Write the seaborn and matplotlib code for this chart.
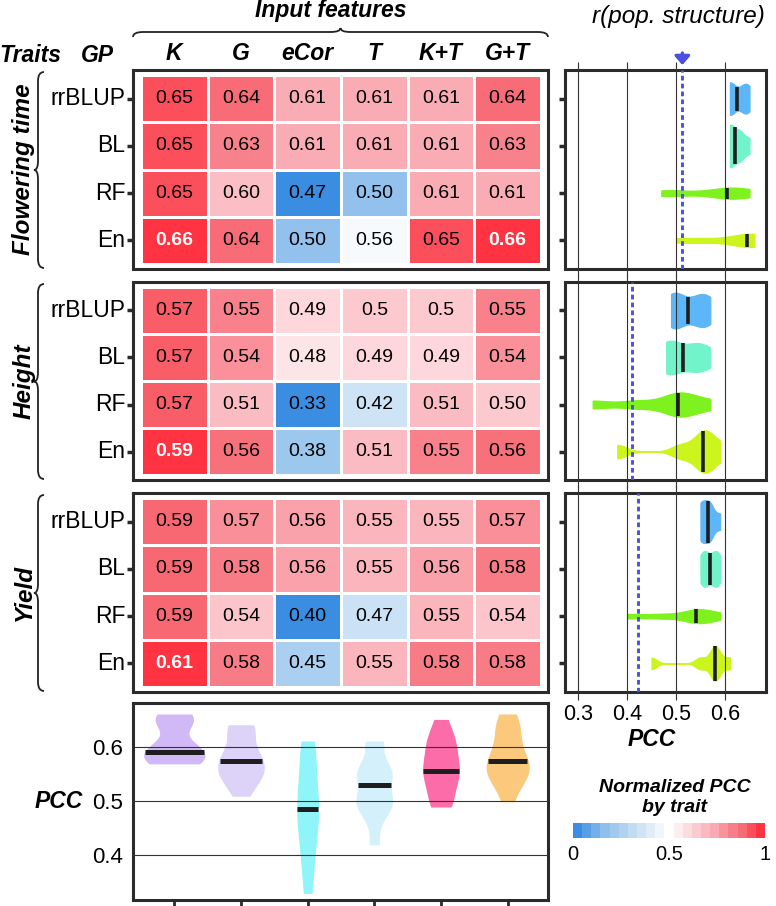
import numpy as np
import pandas as pd
import matplotlib
matplotlib.use("Agg")
import matplotlib.pyplot as plt
import seaborn as sns
from matplotlib.colors import LinearSegmentedColormap, Normalize
from matplotlib.path import Path
from matplotlib.patches import PathPatch
import matplotlib.cm as cm

# ---------------- data ----------------
traits = ["Flowering time", "Height", "Yield"]
gp_methods = ["rrBLUP", "BL", "RF", "En"]
features = ["K", "G", "eCor", "T", "K+T", "G+T"]

flowering_pcc = [
    ["0.65", "0.64", "0.61", "0.61", "0.61", "0.64"],
    ["0.65", "0.63", "0.61", "0.61", "0.61", "0.63"],
    ["0.65", "0.60", "0.47", "0.50", "0.61", "0.61"],
    ["0.66", "0.64", "0.50", "0.56", "0.65", "0.66"],
]
height_pcc = [
    ["0.57", "0.55", "0.49", "0.5", "0.5", "0.55"],
    ["0.57", "0.54", "0.48", "0.49", "0.49", "0.54"],
    ["0.57", "0.51", "0.33", "0.42", "0.51", "0.50"],
    ["0.59", "0.56", "0.38", "0.51", "0.55", "0.56"],
]
yield_pcc = [
    ["0.59", "0.57", "0.56", "0.55", "0.55", "0.57"],
    ["0.59", "0.58", "0.56", "0.55", "0.56", "0.58"],
    ["0.59", "0.54", "0.40", "0.47", "0.55", "0.54"],
    ["0.61", "0.58", "0.45", "0.55", "0.58", "0.58"],
]
pop_structure_r = [0.513, 0.410, 0.423]

gp_colors = ["#5cb6f7", "#72f4cb", "#7ef21e", "#ccf51d"]
feature_colors = ["#d1b8f6", "#ddd2f7", "#90f5f8", "#d4f1fb", "#fc6ca9", "#fbc87c"]
heat_stops = [0.0, 0.15, 0.35, 0.5, 0.75, 0.9, 1.0]
heat_colors = ["#3b8de2", "#8fc0ec", "#d0e4f6", "#ffffff", "#faa8b1", "#f76b76", "#ff3341"]

# ---------------- style ----------------
plt.rcParams["font.family"] = ["Liberation Sans", "DejaVu Sans"]
W, H = 776, 906
fig = plt.figure(figsize=(W / 100, H / 100), dpi=100)
SPINE = "#2b2b2b"


def px_axes(x0, y0, x1, y1):
    return fig.add_axes([x0 / W, 1 - y1 / H, (x1 - x0) / W, (y1 - y0) / H])


def ftext(x, y, s, **kw):
    kw.setdefault("ha", "center")
    kw.setdefault("va", "center")
    return fig.text(x / W, 1 - y / H, s, **kw)


def boxify(ax):
    for sp in ax.spines.values():
        sp.set_visible(True)
        sp.set_linewidth(2.2)
        sp.set_color(SPINE)


def nrd0_factor(kde):
    x = np.asarray(kde.dataset, dtype=float).ravel()
    sd = np.std(x, ddof=1)
    q25, q75 = np.percentile(x, [25, 75])
    lo = min(sd, (q75 - q25) / 1.34)
    if not lo > 0:
        lo = sd
    return 0.9 * lo * len(x) ** (-0.2) / sd


def violin_halfwidth(coll, pos, value, horizontal):
    v = coll.get_paths()[0].vertices
    if horizontal:
        along, across = v[:, 0], v[:, 1] - pos
    else:
        along, across = v[:, 1], v[:, 0] - pos
    hws = []
    for mask in (across > 1e-9, across < -1e-9):
        a, c = along[mask], np.abs(across[mask])
        if len(a) == 0:
            continue
        o = np.argsort(a)
        hws.append(np.interp(value, a[o], c[o]))
    return max(hws)


def outline_like_fill(ax, n):
    for coll in ax.collections[:n]:
        coll.set_edgecolor(coll.get_facecolor())
        coll.set_linewidth(0.9)


def brace(p0, p1, h1, h2, r, normal):
    p0 = np.array(p0, float)
    p1 = np.array(p1, float)
    L = np.linalg.norm(p1 - p0)
    t = (p1 - p0) / L
    n = np.array(normal, float)
    local = [(0, 0), (0, h1), (r, h1), (L / 2 - r, h1), (L / 2, h1), (L / 2, h1 + h2),
             (L / 2, h1), (L / 2 + r, h1), (L - r, h1), (L, h1), (L, 0)]
    codes = [Path.MOVETO, Path.CURVE3, Path.CURVE3, Path.LINETO, Path.CURVE3, Path.CURVE3,
             Path.CURVE3, Path.CURVE3, Path.LINETO, Path.CURVE3, Path.CURVE3]
    pts = []
    for a, s in local:
        q = p0 + a * t + s * n
        pts.append((q[0] / W, 1 - q[1] / H))
    patch = PathPatch(Path(pts, codes), fill=False, lw=1.3, color="#222222",
                      transform=fig.transFigure)
    fig.add_artist(patch)


stops = list(zip(heat_stops, heat_colors))
cmap = LinearSegmentedColormap.from_list("pcc", stops, N=256)
cmap_bar = LinearSegmentedColormap.from_list("pcc_bar", stops, N=21)

panel_y = [(70, 269), (282, 480), (493, 692)]
tables = [flowering_pcc, height_pcc, yield_pcc]
all_vals = []

for k, (table, (y0, y1)) in enumerate(zip(tables, panel_y)):
    vals = np.array([[float(s) for s in row] for row in table])
    all_vals.append(vals)
    normed = (vals - vals.min()) / (vals.max() - vals.min())
    df = pd.DataFrame(normed, index=gp_methods, columns=features)

    # ---- heatmap ----
    ax = px_axes(133, y0, 548, y1)
    sns.heatmap(df, ax=ax, cmap=cmap, vmin=0, vmax=1, cbar=False,
                annot=np.array(table), fmt="", annot_kws=dict(size=14),
                linewidths=1, linecolor="white")
    for txt, nv in zip(ax.texts, normed.flat):
        if nv >= 0.999:
            txt.set_color("white")
            txt.set_fontweight("bold")
        else:
            txt.set_color("black")
            txt.set_fontweight("normal")
    ax.set_xlim(-0.12, 6.105)
    ax.set_ylim(4.106, -0.106)
    boxify(ax)
    ax.set_xlabel("")
    ax.set_ylabel("")
    ax.set_yticklabels(gp_methods, rotation=0, fontsize=16.5)
    ax.tick_params(axis="y", left=True, length=4, width=2.5, color=SPINE, pad=1.5)
    if k == 0:
        ax.xaxis.tick_top()
        ax.set_xticklabels(features, rotation=0, fontsize=16.5,
                           fontweight="bold", fontstyle="italic")
        ax.tick_params(axis="x", length=0, pad=3.5)
    else:
        ax.set_xticks([])

    # trait label + brace
    ftext(24, (y0 + y1) / 2, traits[k], rotation=90, fontsize=17.5,
          fontweight="bold", fontstyle="italic")
    brace((44, y0 + 2), (44, y1 - 1), 6, 4, 9, (-1, 0))

    # ---- right violins ----
    axr = px_axes(565, y0, 766, y1)
    long = pd.DataFrame({"gp": np.repeat(gp_methods, len(features)),
                         "pcc": vals.flatten()})
    sns.violinplot(data=long, x="pcc", y="gp", hue="gp", order=gp_methods,
                   hue_order=gp_methods, palette=gp_colors, orient="h", cut=0,
                   inner=None, density_norm="area", common_norm=True, width=0.9,
                   linewidth=0, saturation=1, bw_method=nrd0_factor,
                   legend=False, ax=axr)
    outline_like_fill(axr, len(gp_methods))
    for i, coll in enumerate(axr.collections[:len(gp_methods)]):
        m = np.median(vals[i])
        hw = violin_halfwidth(coll, i, m, horizontal=True)
        axr.plot([m, m], [i - hw, i + hw], color="#1e1e1e", lw=2.6,
                 solid_capstyle="butt", zorder=4)
    axr.axvline(pop_structure_r[k], color="#4b50e3", lw=2.1,
                ls=(0, (1.6, 1.1)), zorder=5)
    axr.set_xlim(0.2735, 0.6837)
    axr.set_ylim(3.606, -0.606)
    axr.set_xticks([0.3, 0.4, 0.5, 0.6])
    axr.set_xticklabels(["0.3", "0.4", "0.5", "0.6"])
    axr.grid(axis="x", color="#333333", lw=0.8)
    axr.grid(axis="y", visible=False)
    axr.set_axisbelow(False)
    axr.set_facecolor("white")
    boxify(axr)
    axr.set_xlabel("")
    axr.set_ylabel("")
    axr.tick_params(axis="x", top=True, bottom=True, direction="out", length=6,
                    width=0.8, color="#333333", labelbottom=(k == 2),
                    labelsize=15.5, pad=2.5)
    axr.tick_params(axis="y", left=True, length=4, width=2.5, color=SPINE,
                    labelleft=False)
    if k == 0:
        axr.annotate("", xy=(pop_structure_r[0], 1 + 5 / 199),
                     xytext=(pop_structure_r[0], 1 + 17 / 199),
                     xycoords=("data", "axes fraction"),
                     textcoords=("data", "axes fraction"),
                     arrowprops=dict(arrowstyle="-|>,head_length=0.32,head_width=0.28",
                                     color="#4b50e3", lw=2.4,
                                     mutation_scale=16, shrinkA=0, shrinkB=0),
                     annotation_clip=False)

# ---------------- bottom violin panel ----------------
stack = np.vstack(all_vals)
axb = px_axes(133, 703, 548, 900)
long_all = pd.DataFrame({"feature": np.tile(features, stack.shape[0]),
                         "pcc": stack.flatten()})
sns.violinplot(data=long_all, x="feature", y="pcc", hue="feature", order=features,
               hue_order=features, palette=feature_colors, cut=0, inner=None,
               density_norm="area", common_norm=True, width=0.9, linewidth=0,
               saturation=1, bw_method=nrd0_factor, legend=False, ax=axb)
outline_like_fill(axb, len(features))
for j, coll in enumerate(axb.collections[:len(features)]):
    m = np.median(stack[:, j])
    hw = violin_halfwidth(coll, j, m, horizontal=False)
    axb.plot([j - hw, j + hw], [m, m], color="#1e1e1e", lw=3.6,
             solid_capstyle="butt", zorder=4)
axb.set_xlim(-0.62, 5.605)
axb.set_ylim(0.3167, 0.6815)
axb.set_yticks([0.4, 0.5, 0.6])
axb.set_yticklabels(["0.4", "0.5", "0.6"])
axb.grid(axis="y", color="#333333", lw=0.8)
axb.grid(axis="x", visible=False)
axb.set_axisbelow(False)
boxify(axb)
axb.set_xlabel("")
axb.set_ylabel("")
axb.tick_params(axis="y", length=0, labelsize=16, pad=7)
axb.tick_params(axis="x", bottom=True, length=6, width=2, color=SPINE,
                labelbottom=False)
ftext(59, 802, "PCC", fontsize=16.5, fontweight="bold", fontstyle="italic")

# ---------------- colorbar ----------------
cax = px_axes(573, 823, 765, 838)
sm = cm.ScalarMappable(norm=Normalize(0, 1), cmap=cmap_bar)
cb = fig.colorbar(sm, cax=cax, orientation="horizontal", ticks=[0, 0.5, 1])
cb.outline.set_visible(False)
cb.ax.set_xticklabels(["0", "0.5", "1"])
cb.ax.tick_params(length=0, labelsize=14.5, pad=5)
ftext(675, 787, "Normalized PCC", fontsize=14, fontweight="bold", fontstyle="italic")
ftext(675, 808, "by trait", fontsize=14, fontweight="bold", fontstyle="italic")

# ---------------- headers ----------------
ftext(331, 11, "Input features", fontsize=16.5, fontweight="bold", fontstyle="italic")
brace((133, 37), (548, 37), 5, 4, 10, (0, -1))
ftext(30, 56, "Traits", fontsize=16.5, fontweight="bold", fontstyle="italic")
ftext(97, 56, "GP", fontsize=16.5, fontweight="bold", fontstyle="italic")
ftext(678, 16, "r(pop. structure)", fontsize=17.5, fontstyle="italic")
ftext(652, 740, "PCC", fontsize=16.5, fontweight="bold", fontstyle="italic")

fig.savefig("out.png", dpi=100)
